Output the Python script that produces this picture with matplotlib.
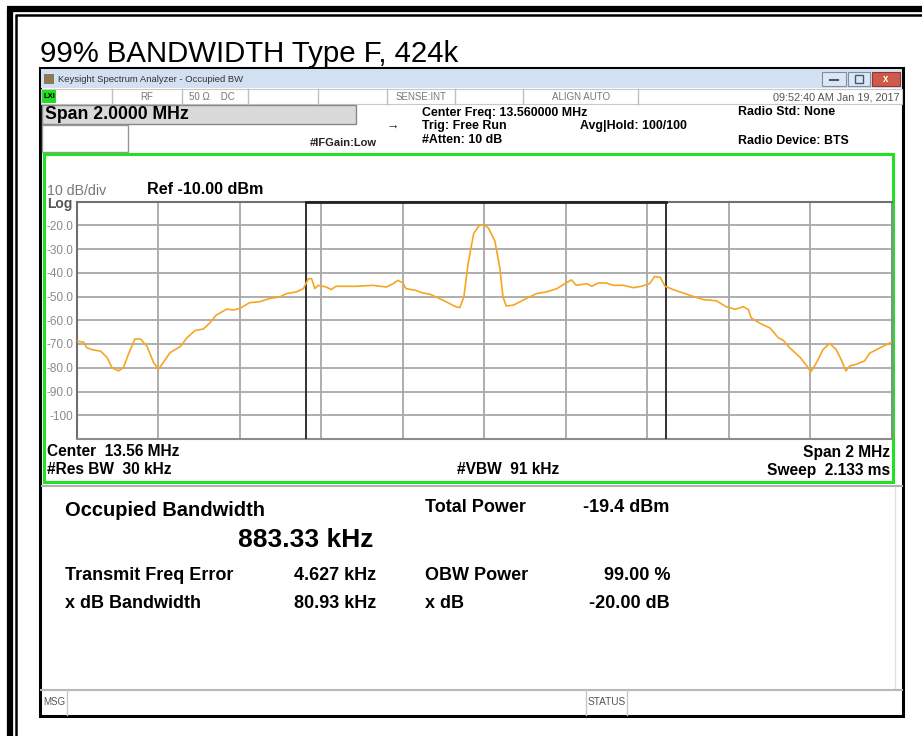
import matplotlib
matplotlib.use('Agg')
from matplotlib import pyplot as plt
from matplotlib.patches import Rectangle
import numpy as np

plt.rcParams['font.family'] = ['Liberation Sans', 'DejaVu Sans']

# trace (MHz, dBm)
freq_mhz = [12.560, 12.576, 12.584, 12.600, 12.618, 12.634, 12.646, 12.662, 12.674, 12.686,
            12.702, 12.716, 12.732, 12.748, 12.760, 12.772, 12.788, 12.814, 12.830, 12.850,
            12.870, 12.886, 12.902, 12.928, 12.944, 12.960, 12.984, 13.008, 13.034, 13.058,
            13.074, 13.098, 13.116, 13.128, 13.136, 13.144, 13.152, 13.172, 13.184, 13.196,
            13.246, 13.286, 13.320, 13.336, 13.348, 13.360, 13.368, 13.392, 13.408, 13.426,
            13.442, 13.466, 13.490, 13.500, 13.510, 13.520, 13.534, 13.548, 13.558, 13.570,
            13.586, 13.598, 13.606, 13.614, 13.632, 13.648, 13.664, 13.688, 13.712, 13.738,
            13.758, 13.774, 13.786, 13.812, 13.824, 13.840, 13.860, 13.876, 13.902, 13.926,
            13.946, 13.966, 13.978, 13.992, 14.004, 14.024, 14.048, 14.072, 14.098, 14.130,
            14.154, 14.176, 14.196, 14.208, 14.216, 14.236, 14.262, 14.282, 14.294, 14.310,
            14.336, 14.352, 14.362, 14.376, 14.392, 14.408, 14.424, 14.436, 14.448, 14.458,
            14.474, 14.494, 14.506, 14.532, 14.556, 14.560]
level_dbm = [-68.8, -69.2, -71.6, -72.5, -73.0, -75.7, -80.0, -81.3, -80.0, -74.4,
             -67.9, -67.9, -71.0, -77.8, -80.6, -77.8, -73.7, -71.0, -67.4, -64.3,
             -63.7, -61.2, -57.8, -55.3, -55.7, -55.0, -52.6, -52.2, -50.8, -50.2,
             -48.8, -48.1, -46.7, -42.5, -42.5, -46.7, -45.3, -46.0, -47.1, -45.7,
             -45.7, -45.3, -46.0, -44.6, -43.2, -44.3, -46.7, -47.4, -48.5, -49.0,
             -50.2, -52.2, -54.3, -54.7, -50.2, -36.5, -23.5, -20.0, -19.8, -21.1,
             -26.6, -37.7, -50.2, -54.0, -53.6, -52.2, -50.8, -48.8, -48.1, -46.7,
             -44.6, -43.0, -45.3, -44.6, -45.7, -44.3, -44.3, -45.3, -45.3, -46.3,
             -45.7, -44.6, -41.6, -41.9, -45.7, -47.1, -48.5, -49.9, -51.3, -51.8,
             -54.3, -55.4, -54.3, -55.4, -59.1, -61.2, -63.3, -67.4, -68.4, -71.6,
             -75.7, -79.2, -81.7, -77.8, -72.3, -69.8, -72.3, -76.4, -81.3, -79.2,
             -78.5, -77.1, -73.9, -71.6, -69.5, -69.3]

center_mhz = 13.56
span_mhz = 2.0
ref_dbm = -10.0
db_per_div = 10
obw_khz = 883.33
freq_err_khz = 4.627
ytick_vals = [-20, -30, -40, -50, -60, -70, -80, -90, -100]
ytick_labels = ['-20.0', '-30.0', '-40.0', '-50.0', '-60.0', '-70.0', '-80.0', '-90.0', '-100']

W, H = 922, 736
fig = plt.figure(figsize=(W / 100, H / 100), dpi=100)
bg = fig.add_axes([0, 0, 1, 1])
bg.set_xlim(0, W)
bg.set_ylim(H, 0)
bg.axis('off')


def rect(x0, y0, x1, y1, fc='none', ec='none', lw=1, z=1):
    bg.add_patch(Rectangle((x0, y0), x1 - x0, y1 - y0, facecolor=fc, edgecolor=ec, lw=lw, zorder=z))


def txt(x, y, s, size=8, bold=False, color='black', ha='left', va='center'):
    bg.text(x, y, s, fontsize=size, fontweight='bold' if bold else 'normal',
            color=color, ha=ha, va=va, zorder=5)


# outer document frame (top and left only, cropped)
bg.plot([7, W], [9, 9], color='black', lw=4.5, solid_capstyle='butt')
bg.plot([10, 10], [9, H], color='black', lw=4.5, solid_capstyle='butt')
bg.plot([15, W], [14.5, 14.5], color='black', lw=1.8, solid_capstyle='butt')
bg.plot([15.5, 15.5], [14.5, H], color='black', lw=1.8, solid_capstyle='butt')

txt(40, 62, '99% BANDWIDTH Type F, 424k', size=21.2, va='baseline')

# analyzer window
rect(40, 68, 903, 716, fc='white', ec='black', lw=2.2, z=1)
rect(41, 69, 902, 88, fc='#d3e0f1', z=2)
rect(44, 74, 54, 84, fc='#8a7a55', z=3)
txt(58, 79, 'Keysight Spectrum Analyzer - Occupied BW', size=6.8, color='#333333')
rect(822, 72, 846, 86, fc='#dde7f3', ec='#7d8ea5', lw=0.8, z=3)
rect(848, 72, 870, 86, fc='#dde7f3', ec='#7d8ea5', lw=0.8, z=3)
rect(872, 72, 900, 86, fc='#cf5a48', ec='#8a3a30', lw=0.8, z=3)
bg.plot([830, 838], [80, 80], color='#45587a', lw=1.5, zorder=4)
txt(886, 79, 'x', size=7, bold=True, color='white', ha='center')
rect(855, 75, 863, 83, ec='#45587a', lw=1, z=4)

# status strip
rect(41, 89, 902, 104, fc='white', ec='#c8c8c8', lw=0.8, z=2)
rect(42, 90, 56, 103, fc='#22dd22', z=3)
txt(43, 96.5, 'LXI', size=5.5, bold=True)
for sx in [112, 182, 248, 318, 387, 455, 523, 638]:
    bg.plot([sx, sx], [89, 104], color='#c0c0c0', lw=1, zorder=3)
txt(147, 97, 'RF', size=7, color='#777777', ha='center')
txt(189, 97, '50 \u03a9    DC', size=7, color='#777777')
txt(421, 97, 'SENSE:INT', size=7, color='#777777', ha='center')
txt(581, 97, 'ALIGN AUTO', size=7, color='#777777', ha='center')
txt(900, 97, '09:52:40 AM Jan 19, 2017', size=7.8, color='#555555', ha='right')

# settings block
rect(42, 105, 356, 124, fc='#d9d9d9', ec='#888888', lw=1, z=2)
txt(45, 114.5, 'Span 2.0000 MHz', size=12.7, bold=True)
rect(42, 125, 128, 152, fc='white', ec='#999999', lw=1, z=2)
txt(310, 143, '#IFGain:Low', size=8, bold=True, color='#222222')
txt(393, 127, '\u2192', size=9, ha='center', color='#222222')
txt(422, 113, 'Center Freq: 13.560000 MHz', size=8.9, bold=True)
txt(422, 126, 'Trig: Free Run', size=8.9, bold=True)
txt(422, 140, '#Atten: 10 dB', size=8.9, bold=True)
txt(580, 126, 'Avg|Hold: 100/100', size=8.9, bold=True)
txt(738, 112, 'Radio Std: None', size=8.9, bold=True)
txt(738, 141, 'Radio Device: BTS', size=8.9, bold=True)

# green graph frame
rect(44, 154, 893, 482, ec='#22e022', lw=2.2, z=2)
txt(47, 191, '10 dB/div', size=10.2, color='#777777')
txt(47, 204, 'Log', size=10, bold=True, color='#555555')
txt(147, 190, 'Ref -10.00 dBm', size=11.6, bold=True)
txt(47, 452, 'Center  13.56 MHz', size=11.2, bold=True)
txt(47, 470, '#Res BW  30 kHz', size=11.2, bold=True)
txt(508, 470, '#VBW  91 kHz', size=11.2, bold=True, ha='center')
txt(890, 452, 'Span 2 MHz', size=11.2, bold=True, ha='right')
txt(890, 470, 'Sweep  2.133 ms', size=11.2, bold=True, ha='right')

# result panel
bg.plot([42, 902], [486, 486], color='#b0b0b0', lw=1.5, zorder=3)
bg.plot([895, 895], [487, 688], color='#e0e0e0', lw=1, zorder=3)
txt(65, 511, 'Occupied Bandwidth', size=14.5, bold=True)
txt(306, 540, f'{obw_khz:.2f} kHz', size=19, bold=True, ha='center')
txt(425, 508, 'Total Power', size=13, bold=True)
txt(583, 508, '-19.4 dBm', size=13, bold=True)
txt(65, 575, 'Transmit Freq Error', size=13, bold=True)
txt(294, 575, f'{freq_err_khz:.3f} kHz', size=13, bold=True)
txt(425, 575, 'OBW Power', size=13, bold=True)
txt(670, 575, '99.00 %', size=13, bold=True, ha='right')
txt(65, 603, 'x dB Bandwidth', size=13, bold=True)
txt(294, 603, '80.93 kHz', size=13, bold=True)
txt(425, 603, 'x dB', size=13, bold=True)
txt(670, 603, '-20.00 dB', size=13, bold=True, ha='right')

# message bar
bg.plot([41, 902], [689.5, 689.5], color='#b8b8b8', lw=1.5, zorder=3)
for sx in [67, 586, 627]:
    bg.plot([sx, sx], [690, 715], color='#c8c8c8', lw=1, zorder=3)
txt(43, 702, 'MSG', size=7, color='#555555')
txt(606.5, 702, 'STATUS', size=7.3, color='#555555', ha='center')

# spectrum trace
x0, x1, y0, y1 = 77, 891.5, 201.5, 439
ax = fig.add_axes([x0 / W, 1 - y1 / H, (x1 - x0) / W, (y1 - y0) / H])
f_lo = center_mhz - span_mhz / 2
f_hi = center_mhz + span_mhz / 2
ax.set_xlim(f_lo, f_hi)
ax.set_ylim(ref_dbm - 10 * db_per_div, ref_dbm)
ax.set_xticks(np.linspace(f_lo, f_hi, 11))
ax.set_xticklabels([])
ax.set_yticks(ytick_vals)
ax.set_yticklabels(ytick_labels, fontsize=8.5, color='#8a8a8a')
ax.tick_params(length=0, pad=2.5)
ax.grid(True, color='#a8a8a8', lw=1.3)
for s in ax.spines.values():
    s.set_color('#8c8c8c')
    s.set_linewidth(1.5)
ax.spines['top'].set_color('#707070')
ax.spines['left'].set_color('#707070')
ax.patch.set_alpha(0)

obw_c = center_mhz + freq_err_khz / 1000
obw_l = obw_c - obw_khz / 2000
obw_r = obw_c + obw_khz / 2000
ax.axvline(obw_l, color='#222222', lw=1.3, zorder=3)
ax.axvline(obw_r, color='#222222', lw=1.3, zorder=3)
ax.plot([obw_l, obw_r], [ref_dbm - 0.3, ref_dbm - 0.3], color='#222222', lw=2, zorder=3, clip_on=False)

ax.plot(freq_mhz, level_dbm, color='#f5a623', lw=1.2, zorder=4)

fig.savefig('out.png', dpi=100)
